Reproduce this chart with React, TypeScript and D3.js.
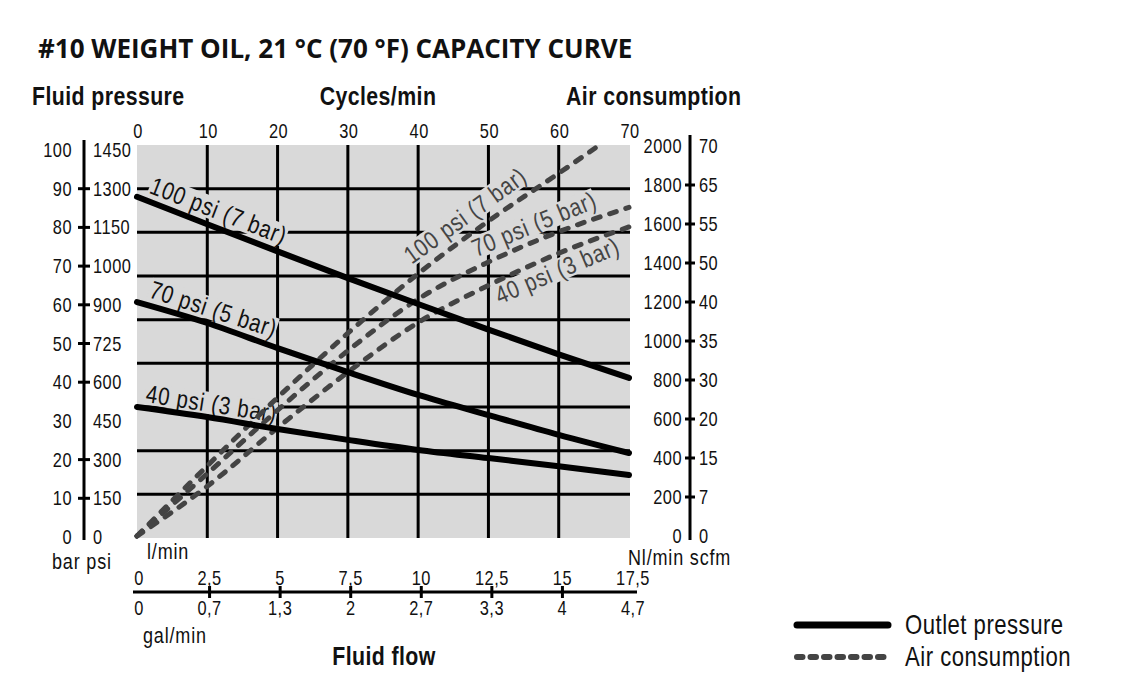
import { useEffect, useRef } from 'react';
import * as d3 from 'd3';

const W = 1123;
const H = 686;

// fluid flow (l/min) sample points shared by the outlet curves
const flow = [0, 2.5, 5, 7.5, 10, 12.5, 15, 17.5];
// outlet fluid pressure, bar
const outlet100 = [87.9, 80.8, 73.8, 66.9, 60.2, 53.6, 47.2, 41.1];
const outlet70 = [60.7, 55.3, 48.8, 42.6, 36.7, 31.5, 26.4, 21.7];
const outlet40 = [33.6, 31.0, 27.9, 25.1, 22.5, 20.4, 18.3, 16.0];

// air consumption, Nl/min
const air100Flow = [0, 2.5, 5, 7.5, 10, 12.5, 15, 16.4];
const air100 = [0, 360, 710, 1040, 1345, 1615, 1860, 2000];
const air70 = [0, 320, 645, 950, 1215, 1405, 1560, 1685];
const air40 = [0, 255, 555, 840, 1095, 1285, 1450, 1585];

// axis ticks
const barTicks = [0, 10, 20, 30, 40, 50, 60, 70, 80, 90, 100];
const psiLabels = ['0', '150', '300', '450', '600', '725', '900', '1000', '1150', '1300', '1450'];
const barTickMarks = [10, 20, 40, 50, 60, 70, 80, 90];
const nlTicks = [0, 200, 400, 600, 800, 1000, 1200, 1400, 1600, 1800, 2000];
const scfmLabels = ['0', '7', '15', '20', '30', '35', '40', '50', '55', '65', '70'];
const cycleTicks = [0, 10, 20, 30, 40, 50, 60, 70];
const lminTicks = [0, 2.5, 5, 7.5, 10, 12.5, 15, 17.5];
const lminLabels = ['0', '2,5', '5', '7,5', '10', '12,5', '15', '17,5'];
const galLabels = ['0', '0,7', '1,3', '2', '2,7', '3,3', '4', '4,7'];
const gridRows = 9;

// no narrow face installed: squeeze the regular one horizontally
const FONT = '"Liberation Sans", Arial, sans-serif';
const SX = 0.82;
const PLOT_BG = '#d9d9d9';
const DASH_COLOR = '#444444';

export default function App() {
  const svgRef = useRef<SVGSVGElement>(null);

  useEffect(() => {
    if (!svgRef.current) return;
    const svg = d3.select(svgRef.current);
    svg.selectAll('*').remove();

    const plot = { left: 137, right: 630, top: 145, bottom: 538 };

    const xFlow = d3.scaleLinear().domain([0, 17.5]).range([137, 629]);
    const xCycles = d3.scaleLinear().domain([0, 70]).range([137, 629]);
    const xBottom = d3.scaleLinear().domain([0, 17.5]).range([139, 633]);
    const yBar = d3.scaleLinear().domain([0, 100]).range([537, 150]);
    const yAir = d3.scaleLinear().domain([0, 2000]).range([536, 146]);
    const yGrid = d3.scaleLinear().domain([0, gridRows]).range([plot.bottom, plot.top]);

    const text = (x: number, y: number, s: string, size = 20, anchor = 'start', weight = 'normal', spacing = 0.6) =>
      svg.append('text')
        .attr('transform', `translate(${x},${y}) scale(${SX},1)`).text(s)
        .attr('font-family', FONT).attr('font-size', size).attr('font-weight', weight)
        .attr('letter-spacing', spacing).attr('text-anchor', anchor).attr('fill', '#111');

    // title and axis headings
    svg.append('text').attr('x', 38).attr('y', 58)
      .text('#10 WEIGHT OIL, 21 °C (70 °F) CAPACITY CURVE')
      .attr('font-family', '"Open Sans", sans-serif').attr('font-weight', 700).attr('font-size', 26).attr('fill', '#111');

    text(32, 105, 'Fluid pressure', 26, 'start', 'bold', 0.5);
    text(378, 105, 'Cycles/min', 26, 'middle', 'bold', 0.5);
    text(566, 105, 'Air consumption', 26, 'start', 'bold', 0.5);

    cycleTicks.forEach((c) => text(xCycles(c) + 1, 138, String(c), 20, 'middle'));

    // plot area + grid
    svg.append('rect')
      .attr('x', plot.left).attr('y', plot.top)
      .attr('width', plot.right - plot.left).attr('height', plot.bottom - plot.top)
      .attr('fill', PLOT_BG);

    const grid = svg.append('g').attr('stroke', '#000').attr('stroke-width', 3);
    cycleTicks.slice(1, -1).forEach((c) => {
      grid.append('line').attr('x1', xCycles(c)).attr('x2', xCycles(c)).attr('y1', plot.top).attr('y2', plot.bottom);
    });
    d3.range(1, gridRows).forEach((r) => {
      grid.append('line').attr('x1', plot.left).attr('x2', plot.right).attr('y1', yGrid(r)).attr('y2', yGrid(r));
    });

    // position of a series at a given flow, in pixels
    const at = (xs: number[], ys: number[], y: d3.ScaleLinear<number, number>, f: number) => {
      const i = Math.max(0, Math.min(xs.length - 2, d3.bisectRight(xs, f) - 1));
      const t = (f - xs[i]) / (xs[i + 1] - xs[i]);
      return [xFlow(f), y(ys[i] + t * (ys[i + 1] - ys[i]))];
    };

    const labels = svg.append('g');
    const curveLabel = (xs: number[], ys: number[], y: d3.ScaleLinear<number, number>,
      f: number, span: number, offset: number, s: string, color: string) => {
      const [x0, y0] = at(xs, ys, y, f);
      const [x1, y1] = at(xs, ys, y, f + span);
      const angle = (Math.atan2(y1 - y0, x1 - x0) * 180) / Math.PI;
      const lg = labels.append('g').attr('transform', `translate(${x0},${y0}) rotate(${angle})`);
      const bg = lg.append('rect').attr('fill', PLOT_BG);
      const t = lg.append('text').attr('transform', `translate(0,${offset}) scale(${SX},1)`).text(s)
        .attr('font-family', FONT).attr('font-size', 25).attr('letter-spacing', 1).attr('fill', color);
      const bb = (t.node() as SVGTextElement).getBBox();
      bg.attr('x', bb.x * SX - 1).attr('y', offset + bb.y + 3)
        .attr('width', bb.width * SX + 1).attr('height', bb.height - 6);
    };

    curveLabel(flow, outlet100, yBar, 0.3, 4, -8, '100 psi (7 bar)', '#111');
    curveLabel(flow, outlet70, yBar, 0.3, 4, -8, '70 psi (5 bar)', '#111');
    curveLabel(flow, outlet40, yBar, 0.25, 4, -6, '40 psi (3 bar)', '#111');
    curveLabel(air100Flow, air100, yAir, 10.0, 4, -11, '100 psi (7 bar)', DASH_COLOR);
    curveLabel(flow, air70, yAir, 12.2, 4, -10, '70 psi (5 bar)', DASH_COLOR);
    curveLabel(flow, air40, yAir, 12.6, 4, 22, '40 psi (3 bar)', DASH_COLOR);

    // air consumption curves
    const airLine = (xs: number[]) => d3.line<number>()
      .x((_, i) => xFlow(xs[i])).y((d) => yAir(d)).curve(d3.curveMonotoneX);
    [[air100Flow, air100], [flow, air70], [flow, air40]].forEach(([xs, ys]) => {
      svg.append('path').attr('d', airLine(xs)(ys))
        .attr('fill', 'none').attr('stroke', DASH_COLOR).attr('stroke-width', 5)
        .attr('stroke-linecap', 'round').attr('stroke-dasharray', '7 10');
    });

    // outlet pressure curves
    const outLine = d3.line<number>()
      .x((_, i) => xFlow(flow[i])).y((d) => yBar(d)).curve(d3.curveMonotoneX);
    [outlet100, outlet70, outlet40].forEach((ys) => {
      svg.append('path').attr('d', outLine(ys))
        .attr('fill', 'none').attr('stroke', '#000').attr('stroke-width', 6)
        .attr('stroke-linecap', 'round');
    });

    // left axis: bar | psi
    svg.append('line').attr('x1', 84).attr('x2', 84).attr('y1', 140).attr('y2', 540)
      .attr('stroke', '#000').attr('stroke-width', 3);
    barTickMarks.forEach((v) => {
      svg.append('line').attr('x1', 78).attr('x2', 90).attr('y1', yBar(v)).attr('y2', yBar(v))
        .attr('stroke', '#000').attr('stroke-width', 3);
    });
    barTicks.forEach((v, i) => {
      text(72, yBar(v) + 7, String(v), 20, 'end');
      text(93, yBar(v) + 7, psiLabels[i], 20, 'start');
    });
    text(52, 569, 'bar psi', 22, 'start', 'normal', 1);

    // right axis: Nl/min | scfm
    svg.append('line').attr('x1', 690).attr('x2', 690).attr('y1', 135).attr('y2', 540)
      .attr('stroke', '#000').attr('stroke-width', 3);
    nlTicks.slice(1, -1).forEach((v) => {
      svg.append('line').attr('x1', 685).attr('x2', 695).attr('y1', yAir(v)).attr('y2', yAir(v))
        .attr('stroke', '#000').attr('stroke-width', 3);
    });
    nlTicks.forEach((v, i) => {
      text(682, yAir(v) + 7, String(v), 20, 'end');
      text(699, yAir(v) + 7, scfmLabels[i], 20, 'start');
    });
    text(628, 565, 'Nl/min scfm', 22, 'start', 'normal', 1);

    // bottom axis: l/min over gal/min
    svg.append('line').attr('x1', 133).attr('x2', 637).attr('y1', 592).attr('y2', 592)
      .attr('stroke', '#000').attr('stroke-width', 3);
    lminTicks.slice(1, -1).forEach((v) => {
      svg.append('line').attr('x1', xBottom(v)).attr('x2', xBottom(v)).attr('y1', 586).attr('y2', 598)
        .attr('stroke', '#000').attr('stroke-width', 3);
    });
    lminTicks.forEach((v, i) => {
      text(xBottom(v), 585, lminLabels[i], 20, 'middle');
      text(xBottom(v), 615, galLabels[i], 20, 'middle');
    });
    text(147, 559, 'l/min', 22, 'start', 'normal', 1);
    text(143, 643, 'gal/min', 22, 'start', 'normal', 1);
    text(384, 665, 'Fluid flow', 26, 'middle', 'bold', 0.5);

    // legend
    svg.append('line').attr('x1', 797).attr('x2', 888).attr('y1', 625).attr('y2', 625)
      .attr('stroke', '#000').attr('stroke-width', 7).attr('stroke-linecap', 'round');
    svg.append('line').attr('x1', 797).attr('x2', 888).attr('y1', 657).attr('y2', 657)
      .attr('stroke', DASH_COLOR).attr('stroke-width', 6).attr('stroke-linecap', 'round')
      .attr('stroke-dasharray', '5.5 8');
    text(905, 634, 'Outlet pressure', 27, 'start', 'normal', 0.6);
    text(905, 666, 'Air consumption', 27, 'start', 'normal', 0.6);
  }, []);

  return (
    <svg
      ref={svgRef}
      width={W}
      height={H}
      style={{ position: 'absolute', left: 0, top: 0, background: '#fff' }}
    />
  );
}
